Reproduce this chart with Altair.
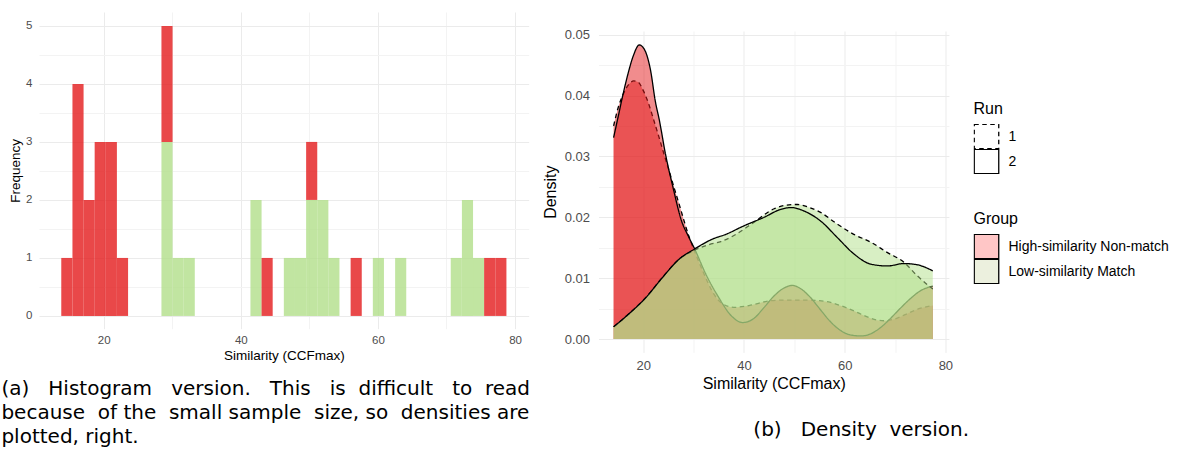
import altair as alt
import pandas as pd

GROUPS = ["High-similarity Non-match", "Low-similarity Match"]
RUNS = ["1", "2"]
RED = "#E31A1C"
GREEN = "#B2DF8A"
LEGEND_PINK = "#FFC6C6"
LEGEND_GREEN = "#ECF0DE"

# ---------------- histogram data (bin centres, counts per group) ----------------
hist_bin_mid = [14.63, 16.26, 17.88, 19.50, 21.12, 22.75, 29.24, 30.86, 32.48,
                42.22, 43.84, 47.09, 48.71, 50.34, 51.96, 53.58, 56.83, 60.07,
                63.32, 71.43, 73.06, 74.68, 76.30, 77.93]
hist_bin_width = 1.623
hist_nonmatch = [1, 4, 2, 3, 3, 1, 2, 0, 0, 0, 1, 0, 0, 1, 0, 0, 1, 0, 0, 0, 0, 0, 1, 1]
hist_match = [0, 0, 0, 0, 0, 0, 3, 1, 1, 2, 0, 1, 1, 2, 2, 1, 0, 1, 1, 1, 2, 1, 0, 0]

# ---------------- density curves ----------------
nm_run1_x = [14.1, 15, 16, 17, 18.1, 19, 20, 21, 22.1, 23.1, 24.1, 25.1, 26.1, 27.1, 28.1,
             29.0, 30.0, 32, 34, 35.4, 38, 41, 45.3, 48, 51.9, 55, 57.2, 59.5, 61.9, 64,
             66.5, 67.8, 70, 72, 74.5, 77.5]
nm_run1_y = [0.0350, 0.0380, 0.0402, 0.0417, 0.0424, 0.0422, 0.0408, 0.0388, 0.0359, 0.0332,
             0.0304, 0.0277, 0.0249, 0.0222, 0.0194, 0.0170, 0.0148, 0.0108, 0.0074, 0.0060,
             0.0052, 0.0055, 0.0063, 0.0064, 0.0064, 0.0063, 0.0060, 0.0054, 0.0046, 0.0038,
             0.0031, 0.0030, 0.0033, 0.0040, 0.0049, 0.0055]

nm_run2_x = [14.1, 15, 16, 17, 18, 19.2, 20.2, 21.45, 22.4, 23.2, 24.4, 25.9, 27.6, 29.0,
             30.2, 32.4, 35.0, 37.5, 39.7, 42, 44, 46, 48, 49.6, 51, 53, 55, 57, 59, 61,
             63.2, 65, 67, 69, 71, 73, 75, 77.5]
nm_run2_y = [0.0331, 0.0365, 0.0403, 0.0437, 0.0465, 0.0483, 0.0476, 0.0441, 0.0390, 0.0359,
             0.0304, 0.0249, 0.0194, 0.0168, 0.0148, 0.0107, 0.0068, 0.0038, 0.0027, 0.0034,
             0.0052, 0.0071, 0.0084, 0.0088, 0.0084, 0.0070, 0.0050, 0.0030, 0.0015, 0.0007,
             0.0005, 0.0008, 0.0018, 0.0033, 0.0050, 0.0066, 0.0079, 0.0087]

m_run1_x = [14.1, 17.1, 20.5, 23.8, 27.1, 30.2, 33, 35.4, 38, 42, 46, 48.5, 50.6, 53, 55.2,
            58.5, 61.8, 65.2, 68.5, 71.8, 74.4, 77.5]
m_run1_y = [0.0020, 0.0041, 0.0068, 0.0101, 0.0131, 0.0146, 0.0155, 0.0160, 0.0170, 0.0192,
            0.0214, 0.0220, 0.0221, 0.0216, 0.0208, 0.0189, 0.0172, 0.0159, 0.0142, 0.0126,
            0.0104, 0.0082]

m_run2_x = [14.1, 17.1, 20.5, 23.8, 27.1, 30.2, 33.7, 36.4, 40, 44, 47.3, 49.4, 52, 55.2,
            58.5, 61.8, 65.2, 68.5, 71.8, 74.4, 77.5]
m_run2_y = [0.0020, 0.0041, 0.0068, 0.0101, 0.0131, 0.0148, 0.0164, 0.0172, 0.0186, 0.0200,
            0.0213, 0.0216, 0.0210, 0.0194, 0.0167, 0.0140, 0.0123, 0.0120, 0.0124, 0.0122,
            0.0112]

# captions: the extra non-breaking spaces imitate the justified text of the reference
NB = "\u00a0"
caption_a = [
    f"(a) {NB*2}Histogram {NB*2}version. {NB*2}This {NB*2}is {NB}difficult {NB*2}to {NB}read",
    f"because {NB}of the {NB}small sample {NB}size, so {NB}densities are",
    "plotted, right.",
]
caption_b = f"(b) {NB*2}Density {NB}version."

FONT = "Liberation Sans"
CAP_FONT = "DejaVu Sans"

# ---------------- histogram ----------------
rows = []
half = hist_bin_width / 2
for mid, n, m in zip(hist_bin_mid, hist_nonmatch, hist_match):
    if m:
        rows.append(dict(x0=mid - half, x1=mid + half, y0=0, y1=m, Group=GROUPS[1]))
    if n:
        rows.append(dict(x0=mid - half, x1=mid + half, y0=m, y1=m + n, Group=GROUPS[0]))
hist_df = pd.DataFrame(rows)

hist = alt.Chart(hist_df).mark_rect(opacity=0.8).encode(
    x=alt.X("x0:Q",
            scale=alt.Scale(domain=[10.57, 81.99], nice=False, zero=False),
            axis=alt.Axis(values=[20, 30, 40, 50, 60, 70, 80],
                          labelExpr="datum.value % 20 == 0 ? datum.label : ''",
                          gridColor=alt.condition("datum.value % 20 == 0",
                                                  alt.value("#EBEBEB"), alt.value("#F3F3F3")),
                          title="Similarity (CCFmax)", labelFontSize=11.5, titleFontSize=13.5,
                          labelPadding=6, titlePadding=2)),
    x2="x1:Q",
    y=alt.Y("y0:Q",
            scale=alt.Scale(domain=[-0.22, 5.24], nice=False, zero=False),
            axis=alt.Axis(values=[0, 0.5, 1, 1.5, 2, 2.5, 3, 3.5, 4, 4.5, 5],
                          labelExpr="datum.value % 1 == 0 ? format(datum.value, 'd') : ''",
                          gridColor=alt.condition("datum.value % 1 == 0",
                                                  alt.value("#EBEBEB"), alt.value("#F3F3F3")),
                          title="Frequency", labelFontSize=11.5, titleFontSize=13.5,
                          labelPadding=7, titlePadding=3)),
    y2="y1:Q",
    color=alt.Color("Group:N", scale=alt.Scale(domain=GROUPS, range=[RED, GREEN]), legend=None),
).properties(
    width=489.7, height=316.7,
    title=alt.TitleParams(text=caption_a, orient="bottom", anchor="start", frame="group",
                          dx=-37.6, offset=17, font=CAP_FONT, fontSize=20, lineHeight=24,
                          fontWeight="normal", color="black"),
)

# ---------------- density ----------------
series = [
    (GROUPS[0], "1", nm_run1_x, nm_run1_y),
    (GROUPS[0], "2", nm_run2_x, nm_run2_y),
    (GROUPS[1], "1", m_run1_x, m_run1_y),
    (GROUPS[1], "2", m_run2_x, m_run2_y),
]

xd = alt.X("x:Q", scale=alt.Scale(domain=[11.1, 80.7], nice=False, zero=False),
           axis=alt.Axis(values=[20, 30, 40, 50, 60, 70, 80],
                         labelExpr="datum.value % 20 == 0 ? datum.label : ''",
                         gridColor=alt.condition("datum.value % 20 == 0",
                                                 alt.value("#EBEBEB"), alt.value("#F3F3F3")),
                         title="Similarity (CCFmax)", labelFontSize=13, titleFontSize=16,
                         labelPadding=6.7, titlePadding=3.8))
major_y = "abs(datum.value*100 - round(datum.value*100)) < 1e-6"
yd = alt.Y("y:Q", stack=None, scale=alt.Scale(domain=[-0.0022, 0.0506], nice=False, zero=False),
           axis=alt.Axis(values=[0, 0.005, 0.01, 0.015, 0.02, 0.025, 0.03, 0.035, 0.04, 0.045, 0.05],
                         labelExpr=f"{major_y} ? format(datum.value, '.2f') : ''",
                         gridColor=alt.condition(major_y, alt.value("#EBEBEB"), alt.value("#F3F3F3")),
                         title="Density", labelFontSize=13, titleFontSize=16,
                         labelPadding=9, titlePadding=6))

legend_common = dict(
    orient="none", legendX=375, symbolType="square", symbolSize=600,
    symbolStrokeColor="black", symbolStrokeWidth=1.3, clipHeight=25, rowPadding=0,
    labelOffset=9, labelLimit=400, titleFontSize=16, titleFontWeight="normal",
    titleColor="black", labelColor="black", labelFontSize=14, titlePadding=7,
    titleFont=FONT, labelFont=FONT,
)
group_legend = alt.Legend(title="Group", legendY=199, symbolOpacity=1, **legend_common)
dash_legend = alt.Legend(title="Run", legendY=89, symbolFillColor="white", **legend_common)

fill_enc = alt.Fill("Group:N", scale=alt.Scale(domain=GROUPS, range=[RED, GREEN]), legend=None)
dash_enc = alt.StrokeDash("Run:N", scale=alt.Scale(domain=RUNS, range=[[4.5, 3.5], [1, 0]]),
                          legend=dash_legend)

layers = []
for g, r, xs, ys in series:
    df = pd.DataFrame({"x": xs, "y": ys, "Group": g, "Run": r})
    area = alt.Chart(df).mark_area(interpolate="monotone", fillOpacity=0.5).encode(
        x=xd, y=yd, y2=alt.datum(0), fill=fill_enc)
    line = alt.Chart(df).mark_line(interpolate="monotone", color="black", strokeWidth=1.3).encode(
        x=xd, y=yd, strokeDash=dash_enc)
    layers += [area, line]

# invisible points that carry the Group legend (pale keys as in the reference)
legend_df = pd.concat([
    pd.DataFrame({"x": nm_run2_x, "y": nm_run2_y, "GroupKey": GROUPS[0]}),
    pd.DataFrame({"x": m_run2_x, "y": m_run2_y, "GroupKey": GROUPS[1]}),
])
legend_layer = alt.Chart(legend_df).mark_point(shape="square", filled=True, opacity=0,
                                               stroke="black").encode(
    x=xd, y=yd,
    color=alt.Color("GroupKey:N", scale=alt.Scale(range=[LEGEND_PINK, LEGEND_GREEN]),
                    legend=group_legend))
layers.append(legend_layer)

density = alt.layer(*layers).properties(
    width=350.4, height=321.4,
    title=alt.TitleParams(text=caption_b, orient="bottom", anchor="middle", frame="group",
                          dx=87.5, offset=28, font=CAP_FONT, fontSize=20, fontWeight="normal",
                          color="black"),
)

# empty strip that drops the density panel a little lower than the histogram
spacer = alt.Chart(pd.DataFrame({"v": [0]})).mark_point(opacity=0).properties(
    width=350.4, height=15.5)

right = alt.vconcat(spacer, density, spacing=0)

chart = alt.hconcat(hist, right, spacing=10.5).resolve_scale(
    color="independent", fill="independent", strokeDash="independent"
).properties(
    padding={"left": 1, "top": 12, "right": 0, "bottom": 0}
).configure_view(stroke=None).configure_axis(
    domain=False, ticks=False, grid=True, gridWidth=1,
    labelFont=FONT, titleFont=FONT, labelColor="#4D4D4D", titleColor="black",
    titleFontWeight="normal",
)

chart.save("out.html", embed_options={"renderer": "svg", "actions": False})
